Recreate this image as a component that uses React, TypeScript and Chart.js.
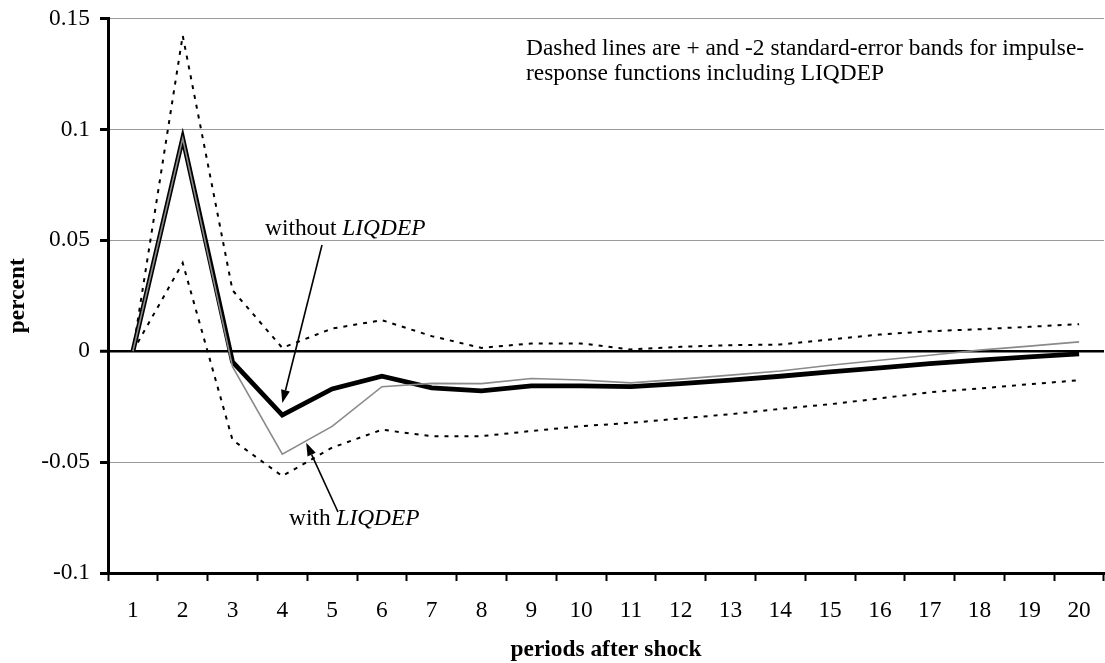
import React, { useEffect, useRef } from 'react';
import { Chart, registerables } from 'chart.js';

Chart.register(...registerables);

const FONT = '"Liberation Serif", "Times New Roman", serif';
const FS = 23.4;

// ---- data ----
const periods = ['1', '2', '3', '4', '5', '6', '7', '8', '9', '10', '11', '12', '13', '14', '15', '16', '17', '18', '19', '20'];

const withoutLiqdep = [0, 0.096, -0.0048, -0.0288, -0.0170, -0.0113, -0.0165, -0.0179, -0.0156, -0.0156, -0.0160, -0.0146, -0.0130, -0.0113, -0.0093, -0.0075, -0.0056, -0.0040, -0.0026, -0.0012];
const withLiqdep = [0, 0.096, -0.0070, -0.0464, -0.0339, -0.0160, -0.0145, -0.0146, -0.0123, -0.0130, -0.0143, -0.0126, -0.0108, -0.0089, -0.0063, -0.0041, -0.0018, 0.0005, 0.0023, 0.0042];
const upperBand = [0, 0.1423, 0.0275, 0.0015, 0.0102, 0.0140, 0.0068, 0.0015, 0.0035, 0.0035, 0.0008, 0.0020, 0.0027, 0.0030, 0.0053, 0.0075, 0.0090, 0.0099, 0.0110, 0.0122];
const lowerBand = [0, 0.0398, -0.0400, -0.0563, -0.0435, -0.0354, -0.0383, -0.0383, -0.0360, -0.0338, -0.0323, -0.0303, -0.0284, -0.0260, -0.0239, -0.0213, -0.0185, -0.0168, -0.0149, -0.0131];

const yTicks = [-0.1, -0.05, 0, 0.05, 0.1, 0.15];
const yTickLabels = ['-0.1', '-0.05', '0', '0.05', '0.1', '0.15'];

const noteLines = [
  'Dashed lines are + and -2 standard-error bands for impulse-',
  'response functions including LIQDEP',
];

function drawMixed(ctx: CanvasRenderingContext2D, plain: string, italic: string, x: number, y: number) {
  ctx.font = `${FS}px ${FONT}`;
  ctx.fillText(plain, x, y);
  const w = ctx.measureText(plain).width;
  ctx.font = `italic ${FS}px ${FONT}`;
  ctx.fillText(italic, x + w, y);
}

function arrow(ctx: CanvasRenderingContext2D, x0: number, y0: number, x1: number, y1: number) {
  const ang = Math.atan2(y1 - y0, x1 - x0);
  const head = 13;
  const half = 4.5;
  const bx = x1 - head * Math.cos(ang);
  const by = y1 - head * Math.sin(ang);
  ctx.beginPath();
  ctx.lineWidth = 1.6;
  ctx.strokeStyle = '#000';
  ctx.moveTo(x0, y0);
  ctx.lineTo(bx, by);
  ctx.stroke();
  ctx.beginPath();
  ctx.moveTo(x1, y1);
  ctx.lineTo(bx + half * Math.sin(ang), by - half * Math.cos(ang));
  ctx.lineTo(bx - half * Math.sin(ang), by + half * Math.cos(ang));
  ctx.closePath();
  ctx.fillStyle = '#000';
  ctx.fill();
}

const notesPlugin = {
  id: 'notes',
  afterDraw(chart: any) {
    const { ctx, scales } = chart;
    const x = scales.x;
    const y = scales.y;
    ctx.save();
    ctx.fillStyle = '#000';
    ctx.textBaseline = 'alphabetic';
    ctx.textAlign = 'left';
    ctx.font = `${FS}px ${FONT}`;
    ctx.fillText(noteLines[0], 526, 55);
    ctx.fillText(noteLines[1], 526, 80);

    drawMixed(ctx, 'without ', 'LIQDEP', 265, 235);
    drawMixed(ctx, 'with ', 'LIQDEP', 289, 525);

    // arrow to "without" line (period 4)
    const t1x = x.getPixelForValue(3);
    const t1y = y.getPixelForValue(withoutLiqdep[3]) - 12;
    arrow(ctx, 322, 245, t1x, t1y);

    // arrow to "with" line (between period 4 and 5)
    const f = 0.48;
    const ax = x.getPixelForValue(3) + f * (x.getPixelForValue(4) - x.getPixelForValue(3));
    const ay = y.getPixelForValue(withLiqdep[3] + f * (withLiqdep[4] - withLiqdep[3])) + 2;
    arrow(ctx, 338, 512, ax, ay);
    ctx.restore();
  },
};

export default function App() {
  const ref = useRef<HTMLCanvasElement>(null);
  useEffect(() => {
    const dotted = {
      borderColor: '#000',
      borderWidth: 2,
      borderDash: [4, 6],
      pointRadius: 0,
      tension: 0,
      fill: false,
    };
    const chart = new Chart(ref.current as HTMLCanvasElement, {
      type: 'line',
      data: {
        labels: periods,
        datasets: [
          { label: 'upper band', data: upperBand, order: 4, ...dotted },
          { label: 'lower band', data: lowerBand, order: 3, ...dotted },
          {
            label: 'without LIQDEP',
            data: withoutLiqdep,
            borderColor: '#000',
            borderWidth: 4.8,
            pointRadius: 0,
            tension: 0,
            order: 2,
          },
          {
            label: 'with LIQDEP',
            data: withLiqdep,
            borderColor: '#8a8a8a',
            borderWidth: 1.6,
            pointRadius: 0,
            tension: 0,
            order: 1,
          },
        ],
      },
      options: {
        animation: false,
        responsive: false,
        maintainAspectRatio: false,
        layout: { padding: { top: 18.5, right: 1, left: 0, bottom: 0 } },
        plugins: { legend: { display: false }, tooltip: { enabled: false } },
        scales: {
          x: {
            offset: true,
            grid: {
              offset: true,
              drawOnChartArea: false,
              drawTicks: true,
              tickLength: 8,
              tickColor: '#000',
              tickWidth: 2,
            },
            border: { display: true, color: '#000', width: 3 },
            ticks: {
              font: { family: FONT, size: FS },
              color: '#000',
              padding: 16,
              maxRotation: 0,
              autoSkip: false,
            },
            title: {
              display: true,
              text: 'periods after shock',
              font: { family: FONT, size: FS, weight: 'bold', lineHeight: 1.1 },
              color: '#000',
              padding: 0,
            },
            afterFit: (s: any) => {
              s.height = 90;
              s.paddingLeft = 0;
              s.paddingRight = 0;
            },
          },
          y: {
            min: -0.1,
            max: 0.15,
            afterBuildTicks: (s: any) => {
              s.ticks = yTicks.map((v) => ({ value: v }));
            },
            ticks: {
              callback: (_v: any, i: number) => yTickLabels[i],
              font: { family: FONT, size: FS },
              color: '#000',
              padding: 10,
            },
            grid: {
              color: (c: any) => (c.tick && c.tick.value === 0 ? '#000' : c.tick && c.tick.value === -0.1 ? 'rgba(0,0,0,0)' : '#9a9a9a'),
              lineWidth: (c: any) => (c.tick && c.tick.value === 0 ? 2.5 : 1),
              tickColor: '#000',
              tickLength: 8,
              tickWidth: 3,
            },
            border: { display: true, color: '#000', width: 3 },
            title: {
              display: true,
              text: 'percent',
              font: { family: FONT, size: FS, weight: 'bold', lineHeight: 1.1 },
              color: '#000',
              padding: { top: 5, bottom: 0 },
            },
            afterFit: (s: any) => {
              s.width = 108;
              s.paddingTop = 0;
              s.paddingBottom = 0;
            },
          },
        },
      } as any,
      plugins: [notesPlugin],
    });
    return () => chart.destroy();
  }, []);
  return (
    <div style={{ position: 'fixed', left: 0, top: 0, width: 1105, height: 663, background: '#fff' }}>
      <canvas ref={ref} width={1105} height={663} style={{ width: 1105, height: 663, display: 'block' }} />
    </div>
  );
}
